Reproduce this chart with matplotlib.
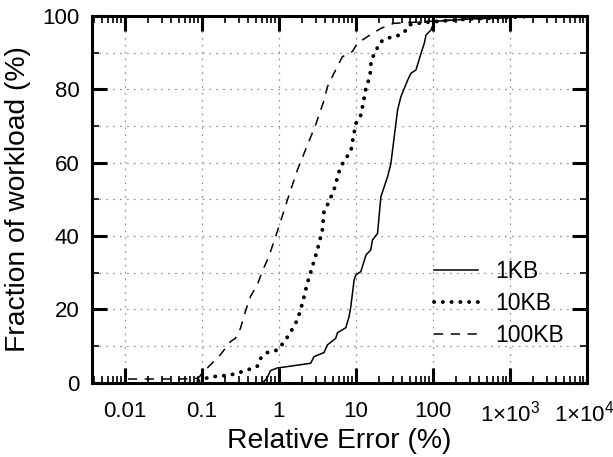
import matplotlib
matplotlib.use("Agg")
import matplotlib.pyplot as plt
from matplotlib.ticker import LogLocator, FixedLocator, NullFormatter, FixedFormatter
from matplotlib.transforms import ScaledTranslation

plt.rcParams['font.family'] = ['Liberation Sans', 'DejaVu Sans']
plt.rcParams['mathtext.fontset'] = 'custom'
plt.rcParams['mathtext.rm'] = 'Liberation Sans'

# ---- data (Relative Error %, Fraction of workload %) ----
kb1_x = [0.62, 0.70, 0.78, 0.95, 1.3, 2.59, 2.86, 3.85, 4.27, 5.47, 5.76, 7.4, 8.15, 8.59,
         9.48, 10.0, 11.6, 13.5, 15.6, 16.4, 19.1, 21.1, 23.3, 25.8, 28.5, 31.4, 34.8,
         38.4, 47, 51.9, 60.3, 70, 77.3, 81.3, 94.5, 104, 300, 1000, 2000, 10000]
kb1_y = [0.0, 1.2, 3.3, 4.0, 4.4, 5.3, 7.1, 8.2, 10.3, 12.1, 13.6, 15.0, 18.0, 20.7,
         28.0, 29.4, 30.3, 34.8, 36.2, 38.9, 40.7, 50.7, 53.4, 56.2, 59.8, 67.0, 74.4,
         78.0, 82.5, 84.4, 85.3, 89.8, 92.6, 94.8, 96.2, 98.5, 99.2, 99.6, 100, 100]

kb10_x = [0.09, 0.129, 0.174, 0.235, 0.301, 0.407, 0.523, 0.578, 0.706, 0.953, 1.107,
          1.35, 1.74, 2.02, 2.34, 2.72, 3.16, 3.67, 3.85, 4.48, 4.96, 5.47, 5.76, 6.36,
          7.39, 8.59, 9.03, 9.48, 10.0, 11.6, 12.2, 12.8, 13.5, 14.9, 15.6, 15.7, 18.2,
          20.0, 24.5, 33.1, 42.4, 49.3, 63.4, 94.5, 300, 1000, 2000, 10000]
kb10_y = [0.5, 1.6, 1.8, 2.1, 2.7, 3.6, 4.4, 6.6, 8.2, 8.9, 10.5,
          13.0, 17.1, 21.6, 27.1, 31.6, 36.2, 41.6, 46.6, 49.4, 51.6, 53.9, 56.2, 58.9,
          61.2, 63.0, 65.7, 68.0, 70.7, 73.0, 75.3, 77.6, 80.3, 83.0, 85.3, 88.0, 90.3,
          92.6, 93.9, 94.4, 95.5, 97.6, 98.0, 98.4, 99.2, 99.6, 100, 100]

kb100_x = [0.011, 0.02, 0.05, 0.09, 0.1, 0.123, 0.174, 0.235, 0.273, 0.317, 0.368, 0.428,
           0.523, 0.608, 0.741, 1.0, 1.29, 1.74, 2.59, 3.0, 3.86, 4.27, 5.2, 6.69, 9.0,
           10.5, 14.2, 21, 31, 103, 300, 1000, 2000, 10000]
kb100_y = [1.0, 1.0, 1.0, 1.2, 2.5, 4.4, 7.6, 11.2, 12.1, 14.8, 19.4, 23.5,
           26.6, 30.3, 34.4, 42.5, 49.8, 58.0, 67.0, 70.3, 77.0, 80.7, 84.4, 88.9, 90.3,
           92.6, 94.4, 96.6, 98.0, 98.6, 99.2, 99.6, 100, 100]

series_labels = ['1KB', '10KB', '100KB']
x_ticks = [0.01, 0.1, 1, 10, 100, 1000, 10000]
x_ticklabels = ['0.01', '0.1', '1', '10', '100',
                r'$\mathregular{1{\times}10^{3}}$', r'$\mathregular{1{\times}10^{4}}$']
y_ticks = [0, 20, 40, 60, 80, 100]

fig = plt.figure(figsize=(6.13, 4.57), dpi=100)
ax = fig.add_axes([0.150, 0.1626, 0.8076, 0.8024])

ax.plot(kb1_x, kb1_y, color='black', lw=1.1, ls='-', label=series_labels[0])
ax.plot(kb10_x, kb10_y, color='black', lw=2.8, ls=(0, (0.05, 2.2)),
        dash_capstyle='round', label=series_labels[1])
ax.plot(kb100_x, kb100_y, color='black', lw=1.1, ls=(0, (6, 5)), label=series_labels[2])

ax.set_xscale('log')
ax.set_xlim(0.00375, 10000)
ax.set_ylim(0, 100)

ax.xaxis.set_major_locator(FixedLocator(x_ticks))
ax.xaxis.set_major_formatter(FixedFormatter(x_ticklabels))
ax.xaxis.set_minor_locator(LogLocator(base=10, subs=range(2, 10), numticks=20))
ax.xaxis.set_minor_formatter(NullFormatter())
ax.yaxis.set_major_locator(FixedLocator(y_ticks))
ax.yaxis.set_minor_locator(FixedLocator([10, 30, 50, 70, 90]))

ax.tick_params(which='major', direction='in', length=11, width=2.2,
               top=True, right=True, labelsize=16)
ax.tick_params(axis='x', which='major', pad=13)
ax.tick_params(axis='y', which='major', pad=9)
ax.tick_params(which='minor', direction='in', length=5, width=1.2,
               top=True, right=True)

ax.grid(True, which='major', axis='both', color='#999999', ls=(0, (1.5, 4)), lw=0.9)
ax.grid(True, which='minor', axis='y', color='#999999', ls=(0, (1.5, 4)), lw=0.9)

for s in ax.spines.values():
    s.set_linewidth(2.2)

ax.set_xlabel('Relative Error (%)', fontsize=20.3, labelpad=1)
ax.set_ylabel('Fraction of workload (%)', fontsize=20.3, labelpad=8)

# nudge the last tick label slightly left so it stays inside the canvas
lbls = ax.get_xticklabels()
lbls[-1].set_transform(lbls[-1].get_transform() + ScaledTranslation(-3 / 100, 0, fig.dpi_scale_trans))

leg = ax.legend(loc='lower right', bbox_to_anchor=(0.995, 0.04), frameon=False,
                fontsize=16.5, handlelength=1.9, handletextpad=0.75, labelspacing=0.4)

fig.savefig('out.png', dpi=100)
